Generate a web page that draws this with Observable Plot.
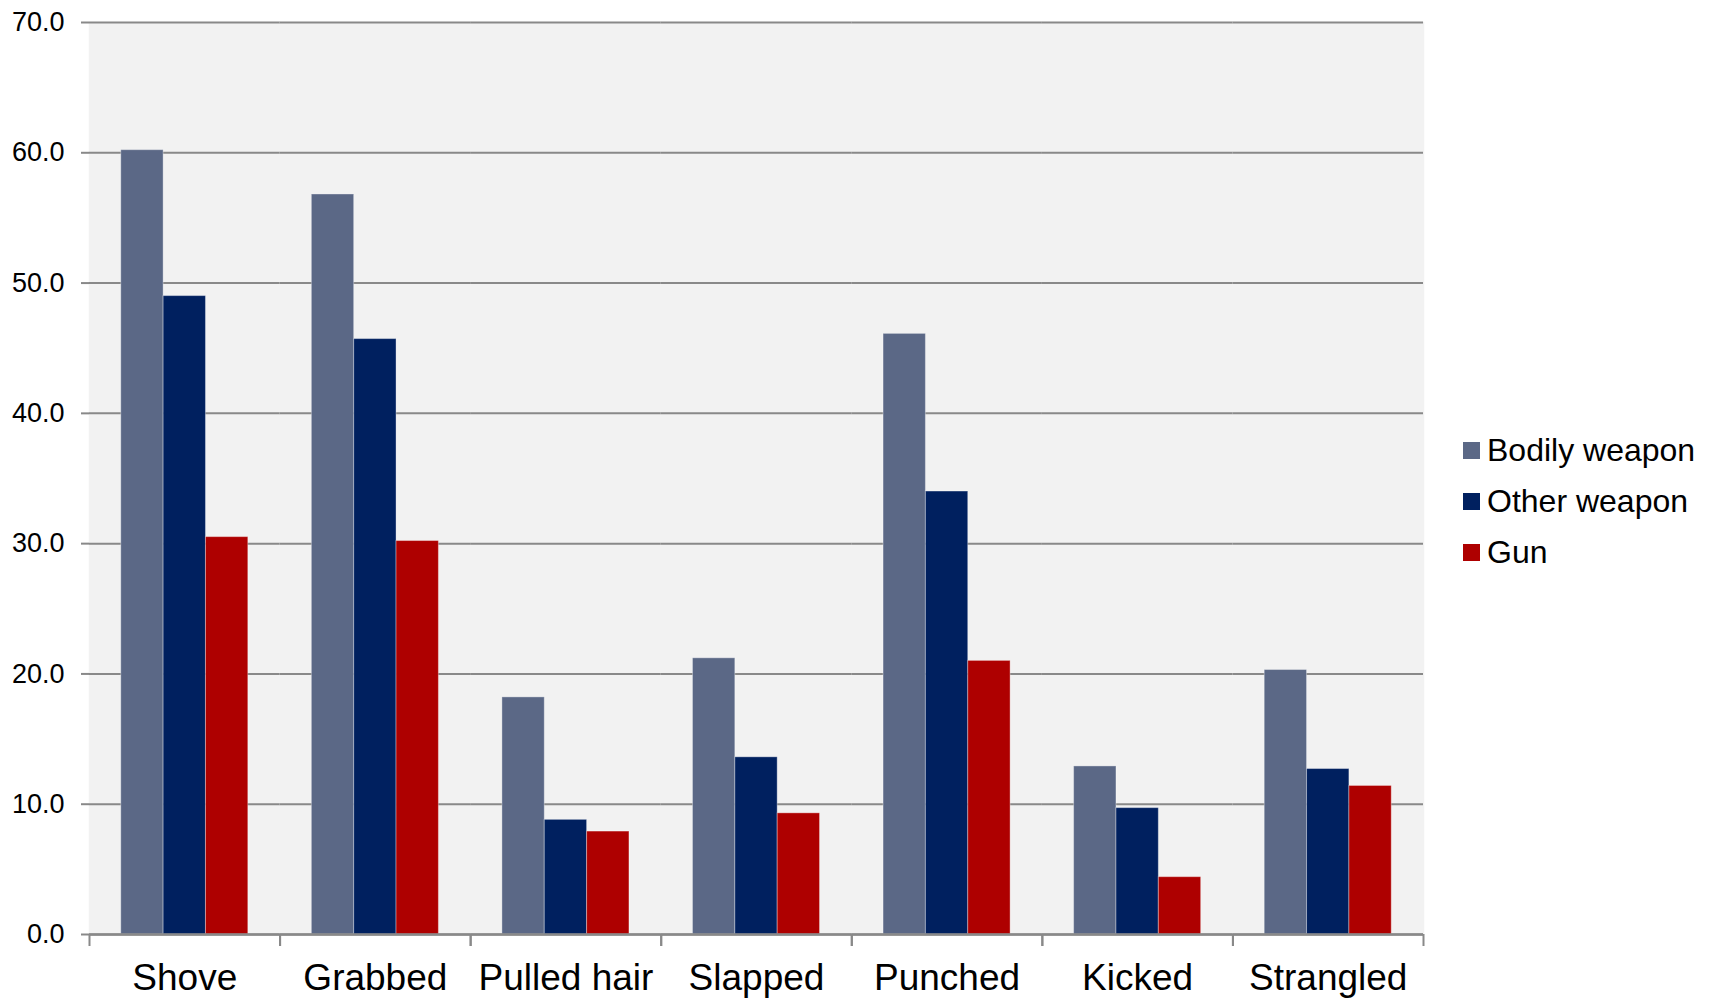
<!DOCTYPE html>
<html>
<head>
<meta charset="utf-8">
<script src="https://cdn.jsdelivr.net/npm/d3@7"></script>
<script src="https://cdn.jsdelivr.net/npm/@observablehq/plot@0.6"></script>
<style>
  html, body { margin: 0; padding: 0; background: #ffffff; }
  #wrap { position: relative; width: 1709px; height: 1001px; font-family: "Liberation Sans", Arial, sans-serif; }
  #legend { position: absolute; left: 1463px; top: 425px; }
  .row { display: flex; align-items: center; height: 51px; font-size: 32px; color: #000; white-space: nowrap; }
  .sw { width: 17px; height: 17px; margin-right: 7px; flex: none; }
</style>
</head>
<body>
<div id="wrap"></div>
<script>
const categories = ["Shove", "Grabbed", "Pulled hair", "Slapped", "Punched", "Kicked", "Strangled"];
const series = ["Bodily weapon", "Other weapon", "Gun"];
const bodilyWeapon = [60.2, 56.8, 18.2, 21.2, 46.1, 12.9, 20.3];
const otherWeapon = [49.0, 45.7, 8.8, 13.6, 34.0, 9.7, 12.7];
const gun = [30.5, 30.2, 7.9, 9.3, 21.0, 4.4, 11.4];
const yTicks = [0, 10, 20, 30, 40, 50, 60, 70];

const colors = ["#5B6886", "#00205F", "#AE0000"];
const W = 1709, H = 1001, ML = 89, MR = 286, MT = 22, MB = 67;
const halfStep = (W - ML - MR) / categories.length / 2;
const axisGray = "#898989";
const panelFill = "#F2F2F2";

const valuesBySeries = [bodilyWeapon, otherWeapon, gun];
const data = [];
categories.forEach((c, i) => {
  series.forEach((s, j) => data.push({category: c, series: s, value: valuesBySeries[j][i]}));
});

const chart = Plot.plot({
  width: W, height: H,
  marginLeft: ML, marginRight: MR, marginTop: MT, marginBottom: MB,
  style: {fontFamily: "'Liberation Sans', Arial, sans-serif", background: "transparent", color: "#000"},
  fx: {domain: categories, paddingInner: 0, paddingOuter: 0, round: false, label: null},
  x: {domain: series, paddingInner: 0, paddingOuter: 0.75, round: false, axis: null},
  y: {domain: [0, 70], label: null},
  color: {domain: series, range: colors},
  marks: [
    Plot.frame({fill: panelFill, stroke: panelFill, strokeWidth: 1.5}),
    Plot.gridY(yTicks, {stroke: axisGray, strokeOpacity: 1, strokeWidth: 2}),
    Plot.barY(data, {fx: "category", x: "series", y: "value", fill: "series", stroke: "white", strokeOpacity: 0.35, strokeWidth: 1}),
    Plot.ruleY([0], {stroke: axisGray, strokeWidth: 2.5}),
    Plot.axisY(yTicks, {anchor: "left", tickFormat: d => d.toFixed(1), tickSize: 8, tickPadding: 17, fontSize: 27, line: true, stroke: axisGray, strokeWidth: 2, label: null}),
    Plot.axisFx({anchor: "bottom", tickSize: 0, tickPadding: 29, fontSize: 37, label: null}),
    Plot.axisFx({anchor: "bottom", tickSize: 12, text: null, dx: -halfStep, stroke: axisGray, strokeWidth: 2, label: null}),
    Plot.axisFx([categories[categories.length - 1]], {anchor: "bottom", tickSize: 12, text: null, dx: halfStep, stroke: axisGray, strokeWidth: 2, label: null})
  ]
});

const wrap = document.getElementById("wrap");
wrap.appendChild(chart);

const legend = document.createElement("div");
legend.id = "legend";
series.forEach((s, j) => {
  const row = document.createElement("div");
  row.className = "row";
  const sw = document.createElement("span");
  sw.className = "sw";
  sw.style.background = colors[j];
  const t = document.createElement("span");
  t.textContent = s;
  row.appendChild(sw);
  row.appendChild(t);
  legend.appendChild(row);
});
wrap.appendChild(legend);
</script>
</body>
</html>
